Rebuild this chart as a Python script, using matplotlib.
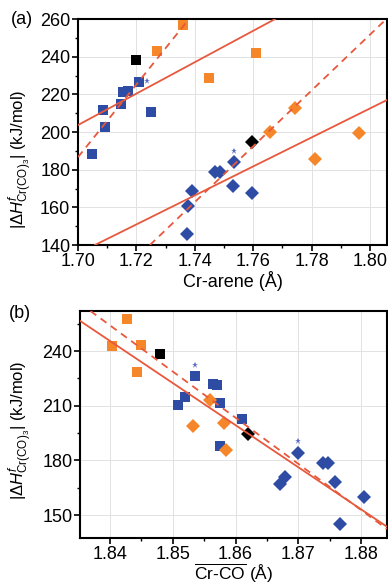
import numpy as np
import matplotlib
matplotlib.use("Agg")
import matplotlib.pyplot as plt
from matplotlib.ticker import MultipleLocator

plt.rcParams['font.family'] = ['Liberation Sans', 'DejaVu Sans']
plt.rcParams['mathtext.fontset'] = 'custom'
plt.rcParams['mathtext.rm'] = 'Liberation Sans'
plt.rcParams['mathtext.it'] = 'Liberation Sans:italic'
plt.rcParams['mathtext.bf'] = 'Liberation Sans:bold'

# ---- panel (a): Cr-arene distance ----
a_osq_x = [1.736, 1.727, 1.761, 1.745]
a_osq_y = [257, 243, 242, 228.6]
a_bsq_x = [1.721, 1.7155, 1.717, 1.7146, 1.7086, 1.725, 1.7092, 1.7048]
a_bsq_y = [226.5, 221.2, 221.8, 214.8, 211.7, 210.6, 202.7, 188.3]
a_ksq_x = [1.720]
a_ksq_y = [238]
a_odi_x = [1.7658, 1.7743, 1.7962, 1.781]
a_odi_y = [200, 212.7, 199.4, 185.7]
a_bdi_x = [1.7535, 1.747, 1.7486, 1.753, 1.7596, 1.739, 1.7377, 1.7373]
a_bdi_y = [184.2, 178.9, 178.9, 171.5, 167.6, 168.8, 160.7, 145.8]
a_kdi_x = [1.7595]
a_kdi_y = [194.7]
a_star_x = [1.7236, 1.7535]
a_star_y = [227, 190]
# fit lines: anchor point + slope
a_fit_x0 = [1.70, 1.7007, 1.7058, 1.7257]
a_fit_y0 = [203.7, 188.0, 140.0, 141.6]
a_fit_m = [834.1, 1930.3, 770.0, 1482.2]
a_fit_ls = ['-', '--', '-', '--']

# ---- panel (b): mean Cr-CO distance ----
b_osq_x = [1.84266, 1.84027, 1.84489, 1.84435]
b_osq_y = [257.4, 242.7, 243.3, 228.7]
b_bsq_x = [1.85355, 1.85646, 1.8571, 1.85195, 1.85088, 1.85753, 1.86099, 1.85753]
b_bsq_y = [226.3, 221.7, 221.2, 214.6, 210.4, 211.3, 202.7, 187.9]
b_ksq_x = [1.84797]
b_ksq_y = [238.4]
b_odi_x = [1.85594, 1.85327, 1.85817, 1.85849]
b_odi_y = [213.1, 199.0, 200.3, 185.7]
b_bdi_x = [1.87001, 1.87399, 1.87479, 1.87586, 1.86789, 1.86709, 1.88053, 1.87665]
b_bdi_y = [183.9, 178.4, 178.4, 168.3, 171.1, 167.0, 160.1, 145.1]
b_kdi_x = [1.86204]
b_kdi_y = [194.5]
b_star_x = [1.85355, 1.87001]
b_star_y = [232.3, 190.6]
b_fit_x0 = [1.83522, 1.83708]
b_fit_y0 = [256.6, 261.5]
b_fit_m = [-2310.0, -2533.0]
b_fit_ls = ['-', '--']

ORANGE = '#f5862a'
BLUE = '#2e4ca4'
LINE = '#e8583c'
STAR = '#5b6cc4'

fig = plt.figure(figsize=(3.88, 5.84), dpi=100)
ax1 = fig.add_axes([78/388, 1-245/584, 309/388, 226/584])
ax2 = fig.add_axes([80/388, 1-538/584, 307/388, 227/584])


def draw(ax, d):
    ax.plot(d['osq'][0], d['osq'][1], 's', color=ORANGE, ms=6.5, mew=0, zorder=3)
    ax.plot(d['bsq'][0], d['bsq'][1], 's', color=BLUE, ms=6.5, mew=0, zorder=3)
    ax.plot(d['ksq'][0], d['ksq'][1], 's', color='black', ms=6.5, mew=0, zorder=3)
    ax.plot(d['odi'][0], d['odi'][1], 'D', color=ORANGE, ms=6.8, mew=0, zorder=3)
    ax.plot(d['bdi'][0], d['bdi'][1], 'D', color=BLUE, ms=6.8, mew=0, zorder=3)
    ax.plot(d['kdi'][0], d['kdi'][1], 'D', color='black', ms=6.8, mew=0, zorder=3)
    ax.plot(d['star'][0], d['star'][1], '*', color=STAR, ms=4.5, mew=0, zorder=3)
    for x0, y0, m, ls in zip(*d['fit']):
        ax.axline((x0, y0), slope=m, color=LINE, lw=1.3, ls=ls,
                  dashes=(4, 3) if ls == '--' else (None, None), zorder=4)
    ax.grid(True, color='#e2e2e2', lw=0.7, zorder=0)
    ax.set_axisbelow(True)
    for s in ax.spines.values():
        s.set_linewidth(1.5)
    ax.tick_params(which='major', direction='out', length=4, width=1.2,
                   labelsize=13, pad=1.5)
    ax.tick_params(which='minor', direction='out', length=2.5, width=1.0)


draw(ax1, dict(osq=(a_osq_x, a_osq_y), bsq=(a_bsq_x, a_bsq_y), ksq=(a_ksq_x, a_ksq_y),
               odi=(a_odi_x, a_odi_y), bdi=(a_bdi_x, a_bdi_y), kdi=(a_kdi_x, a_kdi_y),
               star=(a_star_x, a_star_y),
               fit=(a_fit_x0, a_fit_y0, a_fit_m, a_fit_ls)))
draw(ax2, dict(osq=(b_osq_x, b_osq_y), bsq=(b_bsq_x, b_bsq_y), ksq=(b_ksq_x, b_ksq_y),
               odi=(b_odi_x, b_odi_y), bdi=(b_bdi_x, b_bdi_y), kdi=(b_kdi_x, b_kdi_y),
               star=(b_star_x, b_star_y),
               fit=(b_fit_x0, b_fit_y0, b_fit_m, b_fit_ls)))

ylab = r'$|\Delta H^{f}_{\mathrm{Cr(CO)_3}}|$ (kJ/mol)'

ax1.set_xlim(1.70, 1.8058)
ax1.set_ylim(140, 260)
ax1.xaxis.set_major_locator(MultipleLocator(0.02))
ax1.xaxis.set_minor_locator(MultipleLocator(0.01))
ax1.yaxis.set_major_locator(MultipleLocator(20))
ax1.yaxis.set_minor_locator(MultipleLocator(10))
ax1.xaxis.set_major_formatter(lambda v, p: f'{v:.2f}')
ax1.set_xlabel('Cr-arene (Å)', fontsize=13, labelpad=1)
ax1.set_ylabel(ylab, fontsize=12)
ax1.yaxis.set_label_coords(-0.14, 0.38)
fig.text(22/388, 1-19/584, '(a)', fontsize=13, ha='center', va='center')

ax2.set_xlim(1.83522, 1.88414)
ax2.set_ylim(137.4, 262)
ax2.xaxis.set_major_locator(MultipleLocator(0.01))
ax2.xaxis.set_minor_locator(MultipleLocator(0.005))
ax2.yaxis.set_major_locator(MultipleLocator(30))
ax2.yaxis.set_minor_locator(MultipleLocator(15))
ax2.xaxis.set_major_formatter(lambda v, p: f'{v:.2f}')
ax2.set_xlabel(r'$\overline{\mathrm{Cr}\text{-}\mathrm{CO}}$ (Å)', fontsize=12.5, labelpad=-1)
ax2.set_ylabel(ylab, fontsize=12)
ax2.yaxis.set_label_coords(-0.145, 0.476)
fig.text(20/388, 1-314/584, '(b)', fontsize=13, ha='center', va='center')

fig.savefig('out.png', dpi=100)
